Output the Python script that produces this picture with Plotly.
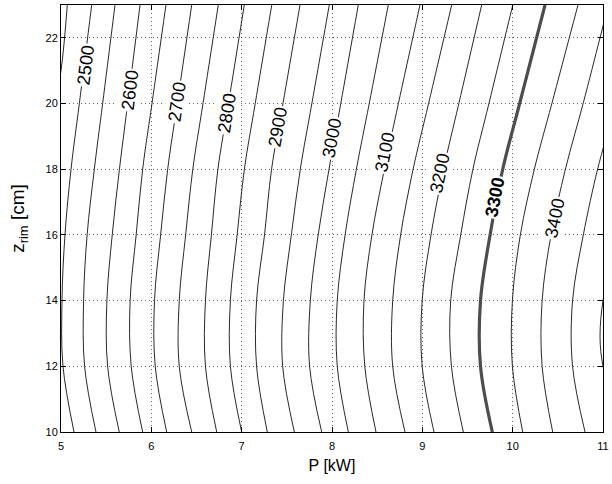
import numpy as np
import plotly.graph_objects as go

# ---- data (P in kW, z_rim in cm) ----
Z_LEVELS = [10, 12, 14, 16, 18, 20, 23]

contour_levels = [2500, 2550, 2600, 2650, 2700, 2750, 2800, 2850, 2900, 2950,
                  3000, 3050, 3100, 3150, 3200, 3250, 3300, 3350]
contour_P = {
    2500: [5.144, 5.022, 5.011, 5.044, 5.111, 5.203, 5.340],
    2550: [5.387, 5.261, 5.250, 5.289, 5.369, 5.461, 5.598],
    2600: [5.645, 5.516, 5.508, 5.567, 5.647, 5.738, 5.875],
    2650: [5.904, 5.777, 5.765, 5.832, 5.904, 6.007, 6.162],
    2700: [6.170, 6.043, 6.035, 6.103, 6.181, 6.287, 6.447],
    2750: [6.447, 6.309, 6.309, 6.380, 6.459, 6.572, 6.741],
    2800: [6.724, 6.599, 6.599, 6.665, 6.737, 6.854, 7.029],
    2850: [7.000, 6.875, 6.875, 6.950, 7.030, 7.150, 7.333],
    2900: [7.284, 7.165, 7.165, 7.253, 7.331, 7.457, 7.646],
    2950: [7.583, 7.454, 7.462, 7.550, 7.649, 7.777, 7.970],
    3000: [7.886, 7.752, 7.760, 7.847, 7.967, 8.097, 8.291],
    3050: [8.181, 8.058, 8.058, 8.145, 8.270, 8.412, 8.623],
    3100: [8.487, 8.363, 8.354, 8.442, 8.580, 8.735, 8.974],
    3150: [8.808, 8.672, 8.672, 8.760, 8.898, 9.069, 9.325],
    3200: [9.129, 8.998, 8.998, 9.096, 9.235, 9.404, 9.657],
    3250: [9.454, 9.322, 9.314, 9.425, 9.560, 9.737, 10.001],
    3300: [9.775, 9.644, 9.644, 9.750, 9.890, 10.077, 10.358],
    3350: [10.111, 9.997, 9.997, 10.085, 10.240, 10.434, 10.723],
}
# partial lines that leave the frame
partial_lines = {
    2450: ([20.0, 21.0, 23.0], [4.93, 5.00, 5.07]),
    3400: ([10, 12, 14, 16, 18, 20, 22, 23], [10.443, 10.326, 10.326, 10.425, 10.584, 10.780, 10.967, 11.06]),
    3450: ([10, 12, 14, 16, 18, 19], [10.801, 10.663, 10.663, 10.782, 10.940, 11.04]),
    3500: ([11, 12, 12.9, 14, 15], [11.10, 11.00, 10.967, 11.00, 11.08]),
}
highlight_level = 3300

label_levels = [2500, 2600, 2700, 2800, 2900, 3000, 3100, 3200, 3300, 3400]
label_P = [5.277, 5.764, 6.284, 6.838, 7.402, 8.000, 8.587, 9.196, 9.805, 10.469]
label_z = [21.17, 20.41, 20.05, 19.71, 19.28, 18.95, 18.52, 17.88, 17.15, 16.51]

x_ticks = [5, 6, 7, 8, 9, 10, 11]
y_ticks = [10, 12, 14, 16, 18, 20, 22]
X_RANGE = [5, 11]
Y_RANGE = [10, 23]

# ---- figure ----
W, H = 612, 484
M = dict(l=61, r=9, t=5, b=52)
plot_w = W - M["l"] - M["r"]
plot_h = H - M["t"] - M["b"]
px_P = plot_w / (X_RANGE[1] - X_RANGE[0])
px_z = plot_h / (Y_RANGE[1] - Y_RANGE[0])
FONT = "Liberation Sans, Arial, Helvetica, sans-serif"

fig = go.Figure()

all_lines = {}
for lev in contour_levels:
    all_lines[lev] = (Z_LEVELS, contour_P[lev])
for lev, (zz, pp) in partial_lines.items():
    all_lines[lev] = (zz, pp)

for lev, (zz, pp) in sorted(all_lines.items()):
    bold = lev == highlight_level
    fig.add_trace(go.Scatter(
        x=pp, y=zz, mode="lines",
        line=dict(color="#4d4d4d" if bold else "#111111",
                  width=3.2 if bold else 0.9, shape="spline", smoothing=1.0),
        hoverinfo="skip", showlegend=False))

for lev, lp, lz in zip(label_levels, label_P, label_z):
    zz, pp = all_lines[lev]
    zz = np.array(zz, float); pp = np.array(pp, float)
    dz = 0.8
    p1 = np.interp(lz - dz, zz, pp); p2 = np.interp(lz + dz, zz, pp)
    ang = -np.degrees(np.arctan2(2 * dz * px_z, (p2 - p1) * px_P))
    bold = lev == highlight_level
    txt = f"<b>{lev}</b>" if bold else str(lev)
    fig.add_annotation(x=lp, y=lz, text=txt, showarrow=False, textangle=ang,
                       font=dict(family=FONT, size=18, color="black"),
                       bgcolor="white", borderpad=1, xanchor="center", yanchor="middle")

axis_common = dict(showline=True, linecolor="black", linewidth=1, mirror="allticks",
                   ticks="inside", ticklen=5, tickcolor="black", automargin=False,
                   ticklabeloverflow="allow",
                   showgrid=True, gridcolor="rgba(0,0,0,0.6)", griddash="1px,3px", gridwidth=1,
                   zeroline=False, tickfont=dict(family=FONT, size=11, color="black"))

fig.update_xaxes(range=X_RANGE, tickvals=x_ticks,
                 ticktext=[str(v) for v in x_ticks], ticklabelstandoff=4,
                 title=dict(text="P [kW]", font=dict(family=FONT, size=16, color="black"),
                            standoff=8),
                 **axis_common)
fig.update_yaxes(range=Y_RANGE, tickvals=y_ticks, ticktext=[str(v) for v in y_ticks],
                 title=dict(text="z<sub><span style='font-size:13px'>rim</span></sub> [cm]",
                            font=dict(family=FONT, size=19, color="black"),
                            standoff=15),
                 **axis_common)

fig.update_layout(width=W, height=H, margin=M, paper_bgcolor="white", plot_bgcolor="white",
                  showlegend=False)

fig.write_html("out.html", config={"displayModeBar": False},
               post_script="document.body.style.margin='0';document.body.style.padding='0';")
